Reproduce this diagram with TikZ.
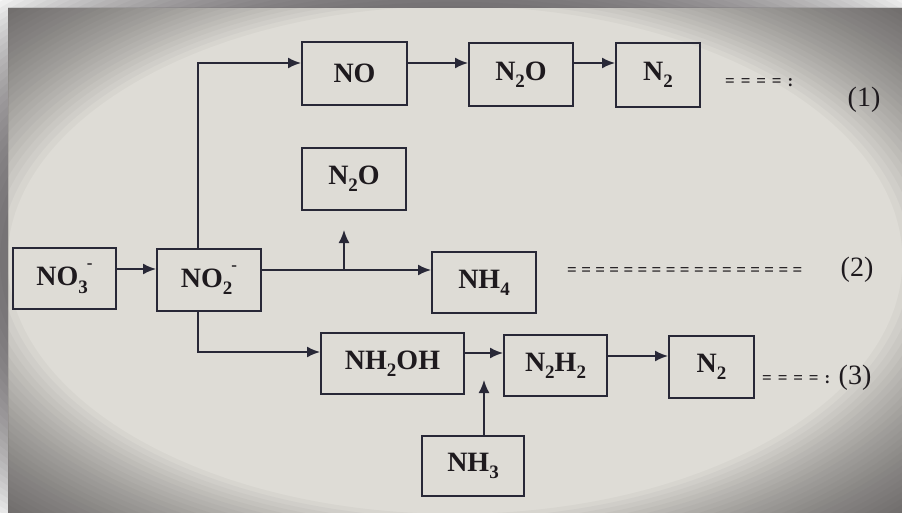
\documentclass[tikz,border=0pt]{standalone}
\usepackage{fontspec}
\setmainfont{Liberation Serif}
\usetikzlibrary{arrows.meta}
\definecolor{bgl}{RGB}{222,220,214}
\definecolor{bgd}{RGB}{60,56,58}
\definecolor{linec}{RGB}{40,40,55}
\definecolor{textc}{RGB}{30,26,30}
\newcommand\chsub[1]{\raisebox{-0.26em}{\fontsize{19}{20}\selectfont #1}}
\newcommand\chsubsup[2]{\raisebox{-0.26em}{\fontsize{19}{20}\selectfont #1}\kern-1pt\raisebox{0.62em}{\fontsize{17}{20}\selectfont #2}}
\newcommand\eqg{\hspace{4.4pt}}
\newcommand\eqs{\hspace{5.9pt}}
\tikzset{
  box/.style={draw=linec, line width=2pt, inner sep=0pt, text=textc,
    font=\fontsize{28}{30}\selectfont\bfseries},
  arr/.style={draw=linec, line width=1.7pt, -{Latex[length=13pt,width=11pt]}},
  lab/.style={text=textc, inner sep=0pt, font=\fontsize{28}{30}\selectfont},
  eqrow/.style={text=textc, inner sep=0pt, anchor=west, font=\fontsize{17}{18}\selectfont\bfseries},
  vig/.style={fill=bgd, fill opacity=0.04, even odd rule}
}
\begin{document}
\begin{tikzpicture}[x=1pt,y=-1pt]
\useasboundingbox (0,0) rectangle (902,513);
\fill[white] (0,0) rectangle (902,513);
\fill[bgl] (8,8) rectangle (902,513);
\foreach \k in {0,...,27} {
  \path[vig] (8,8) rectangle (902,513) (455,260) ellipse ({650-7.5*\k} and {370-4.3*\k});
}

\node[box, minimum width=103pt, minimum height=61pt] (n3) at (64.5,278.5) {NO\chsubsup{3}{-}};
\node[box, minimum width=104pt, minimum height=62pt] (n2) at (209,280) {NO\chsubsup{2}{-}};
\node[box, minimum width=105pt, minimum height=63pt] (no) at (354.5,73.5) {NO};
\node[box, minimum width=104pt, minimum height=63pt] (n2oa) at (521,74.5) {N\chsub{2}O};
\node[box, minimum width=84pt, minimum height=64pt] (n2a) at (658,75) {N\chsub{2}\hspace{14pt}};
\node[box, minimum width=104pt, minimum height=62pt] (n2ob) at (354,179) {N\chsub{2}O};
\node[box, minimum width=104pt, minimum height=61pt] (nh4) at (484,282.5) {NH\chsub{4}\hspace{10pt}};
\node[box, minimum width=143pt, minimum height=61pt] (nh2oh) at (392.5,363.5) {NH\chsub{2}OH};
\node[box, minimum width=103pt, minimum height=61pt] (n2h2) at (555.5,365.5) {N\chsub{2}H\chsub{2}};
\node[box, minimum width=85pt, minimum height=62pt] (n2b) at (711.5,367) {N\chsub{2}\hspace{10pt}};
\node[box, minimum width=102pt, minimum height=60pt] (nh3) at (473,466) {NH\chsub{3}};

\node[eqrow] (e1) at (725,83) {=\eqs=\eqs=\eqs=\eqs:};
\node[eqrow] (e2) at (567,272) {=\eqg=\eqg=\eqg=\eqg=\eqg=\eqg=\eqg=\eqg=\eqg=\eqg=\eqg=\eqg=\eqg=\eqg=\eqg=\eqg=};
\node[eqrow] (e3) at (762,380) {=\eqs=\eqs=\eqs=\eqs:};
\node[lab] (l1) at (864,100) {(1)};
\node[lab] (l2) at (857,270) {(2)};
\node[lab] (l3) at (855,378) {(3)};

\coordinate (j) at (344,270);
\coordinate (tipa) at (344,230);
\coordinate (tipb) at (484,380);

\draw[arr] (n3.east |- 0,269) -- (n2.west |- 0,269);
\draw[arr] (n2.north -| 198,0) |- (no.west |- 0,63);
\draw[arr] (no.east |- 0,63) -- (n2oa.west |- 0,63);
\draw[arr] (n2oa.east |- 0,63) -- (n2a.west |- 0,63);
\draw[arr] (n2.east |- 0,270) -- (nh4.west |- 0,270);
\draw[arr] (j) -- (tipa);
\draw[arr] (n2.south -| 198,0) |- (nh2oh.west |- 0,352);
\draw[arr] (nh2oh.east |- 0,353) -- (n2h2.west |- 0,353);
\draw[arr] (nh3.north -| 484,0) -- (tipb);
\draw[arr] (n2h2.east |- 0,356) -- (n2b.west |- 0,356);
\end{tikzpicture}
\end{document}
